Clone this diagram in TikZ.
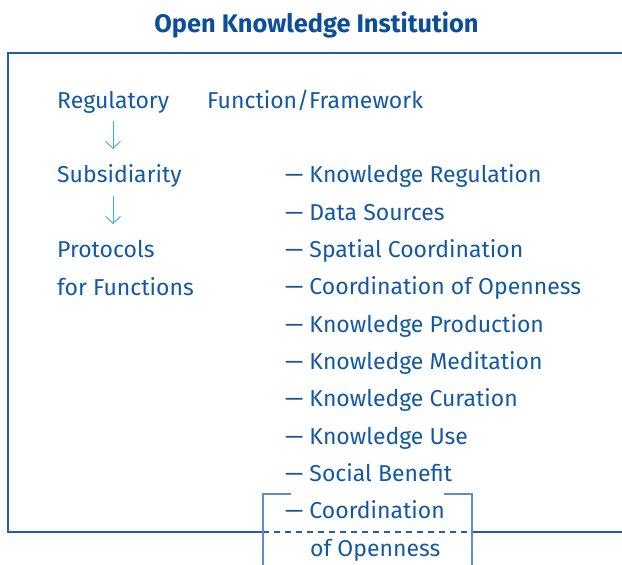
\documentclass[tikz,border=0pt]{standalone}
\usepackage{fontspec}
\setmainfont{Fira Sans}
\usetikzlibrary{arrows.meta}
\definecolor{txtblue}{HTML}{1358A5}
\definecolor{ttlblue}{HTML}{0B4F9A}
\definecolor{boxblue}{HTML}{1F5FAD}
\definecolor{brkblue}{HTML}{5A8ECF}
\definecolor{arrblue}{HTML}{35B0E4}
\tikzset{
  lbl/.style={inner sep=0pt, anchor=base west, text=txtblue, font=\fontsize{23}{23}\selectfont},
  ttl/.style={inner sep=0pt, anchor=base, text=ttlblue, font=\fontsize{25.4}{25.4}\selectfont\bfseries},
  boxline/.style={draw=boxblue, line width=1.6pt},
  brkline/.style={draw=brkblue, line width=1.6pt},
  flow/.style={draw=arrblue, line width=0.9pt, -{Straight Barb[length=7pt,width=15pt,line width=0.9pt]}},
}
\begin{document}
\begin{tikzpicture}[x=1pt,y=-1pt]
\useasboundingbox (0,0) rectangle (622,565);
\node[ttl] (title) at (316.5,32) {Open Knowledge Institution};
% box
\coordinate (tl) at (8,53);
\coordinate (tr) at (622,53);
\coordinate (bl) at (8,532);
\coordinate (bm1) at (263,532);
\coordinate (bm2) at (472,532);
\coordinate (br) at (622,532);
\draw[boxline] (tr) -- (tl) -- (bl) -- (bm1);
\draw[boxline] (bm2) -- (br);
\draw[boxline, line width=1.3pt, dash pattern=on 6pt off 5pt] (bm1) -- (bm2);
% bracket
\coordinate (b1t) at (263,494);
\coordinate (b1b) at (263,565);
\coordinate (b1e) at (291,494);
\coordinate (b2t) at (472,494);
\coordinate (b2b) at (472,565);
\coordinate (b2e) at (444,494);
\draw[brkline] (b1e) -- (b1t) -- (b1b);
\draw[brkline] (b2e) -- (b2t) -- (b2b);
% left column
\node[lbl] (reg) at (57,108) {Regulatory};
\node[lbl] (fun) at (207,108) {Function/Framework};
\node[lbl] (sub) at (57,182) {Subsidiarity};
\node[lbl] (pro) at (57,257) {Protocols};
\node[lbl] (for) at (57,295) {for Functions};
\coordinate (a1s) at (113,121);
\coordinate (a1e) at (113,149);
\coordinate (a2s) at (113,196);
\coordinate (a2e) at (113,224);
\draw[flow] (a1s) -- (a1e);
\draw[flow] (a2s) -- (a2e);
% right column
\node[lbl] (i1) at (285,182) {— Knowledge Regulation};
\node[lbl] (i2) at (285,220) {— Data Sources};
\node[lbl] (i3) at (285,257) {— Spatial Coordination};
\node[lbl] (i4) at (285,294) {— Coordination of Openness};
\node[lbl] (i5) at (285,332) {— Knowledge Production};
\node[lbl] (i6) at (285,369) {— Knowledge Meditation};
\node[lbl] (i7) at (285,406) {— Knowledge Curation};
\node[lbl] (i8) at (285,444) {— Knowledge Use};
\node[lbl] (i9) at (285,481) {— Social Benefit};
\node[lbl] (i10) at (285,518) {— Coordination};
\node[lbl] (i11) at (310,556) {of Openness};
\end{tikzpicture}
\end{document}
